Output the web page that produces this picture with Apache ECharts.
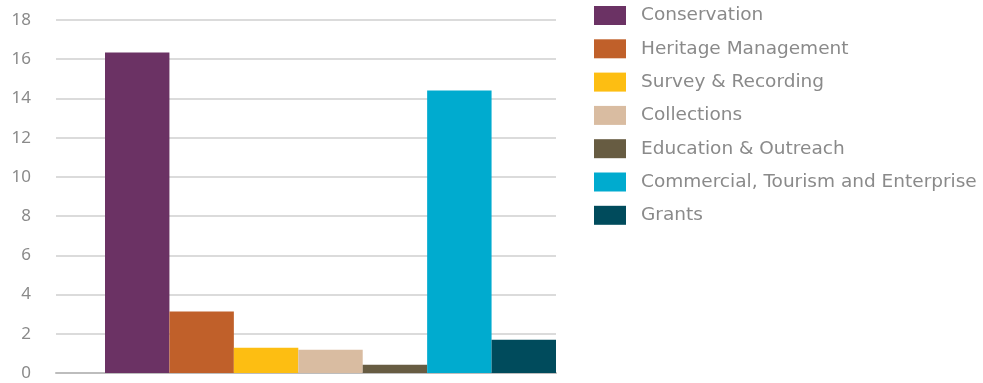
<!DOCTYPE html>
<html>
<head>
<meta charset="utf-8">
<script src="https://cdn.jsdelivr.net/npm/echarts@6/dist/echarts.min.js"></script>
<style>
html,body{margin:0;padding:0;background:#fff;}
#c{width:983px;height:383px;}
</style>
</head>
<body>
<div id="c"></div>
<script>
const categories = [''];
const seriesNames = ['Conservation','Heritage Management','Survey & Recording','Collections','Education & Outreach','Commercial, Tourism and Enterprise','Grants'];
const seriesValues = [16.34, 3.13, 1.29, 1.19, 0.42, 14.40, 1.70];
const seriesColors = ['#6b3264','#c0602a','#fdbe12','#d9bca1','#675c42','#00abcf','#004b5c'];
const yTicks = [0,2,4,6,8,10,12,14,16,18];

const chart = echarts.init(document.getElementById('c'));
const fontFam = '"Noto Sans", sans-serif';
const legendFont = '"DejaVu Sans", sans-serif';
chart.setOption({
  animation: false,
  backgroundColor: '#fff',
  grid: [
    {left: 56, right: 427, top: 20, bottom: 10},
    {left: 105, right: 427, top: 20, bottom: 10}
  ],
  legend: {
    orient: 'vertical',
    left: 589,
    top: 1,
    icon: 'rect',
    itemWidth: 32,
    itemHeight: 19,
    itemGap: 14.3,
    textStyle: {color: '#8a8a8a', fontSize: 18.5, fontFamily: legendFont, padding: [2,0,0,10]},
    data: seriesNames
  },
  xAxis: [
    {type: 'category', gridIndex: 0, data: categories,
     axisLine: {show: true, lineStyle: {color: '#bdbdbd', width: 2}},
     axisTick: {show: false}, axisLabel: {show: false}},
    {type: 'category', gridIndex: 1, data: categories,
     axisLine: {show: false}, axisTick: {show: false}, axisLabel: {show: false}}
  ],
  yAxis: [
    {type: 'value', gridIndex: 0, min: 0, max: 18, interval: 2,
     axisLine: {show: false}, axisTick: {show: false},
     axisLabel: {color: '#8a8a8a', fontSize: 17, fontFamily: fontFam, margin: 25,
       formatter: v => yTicks.includes(v) ? String(v) : ''},
     splitLine: {lineStyle: {color: '#cfcfcf', width: 1.5}}},
    {type: 'value', gridIndex: 1, min: 0, max: 18, interval: 2,
     axisLine: {show: false}, axisTick: {show: false}, axisLabel: {show: false},
     splitLine: {show: false}}
  ],
  series: seriesNames.map((n, i) => ({
    name: n,
    type: 'bar',
    xAxisIndex: 1,
    yAxisIndex: 1,
    data: [seriesValues[i]],
    barGap: '0%',
    barCategoryGap: '0%',
    itemStyle: {color: seriesColors[i]},
    z: 3
  }))
});
</script>
</body>
</html>
